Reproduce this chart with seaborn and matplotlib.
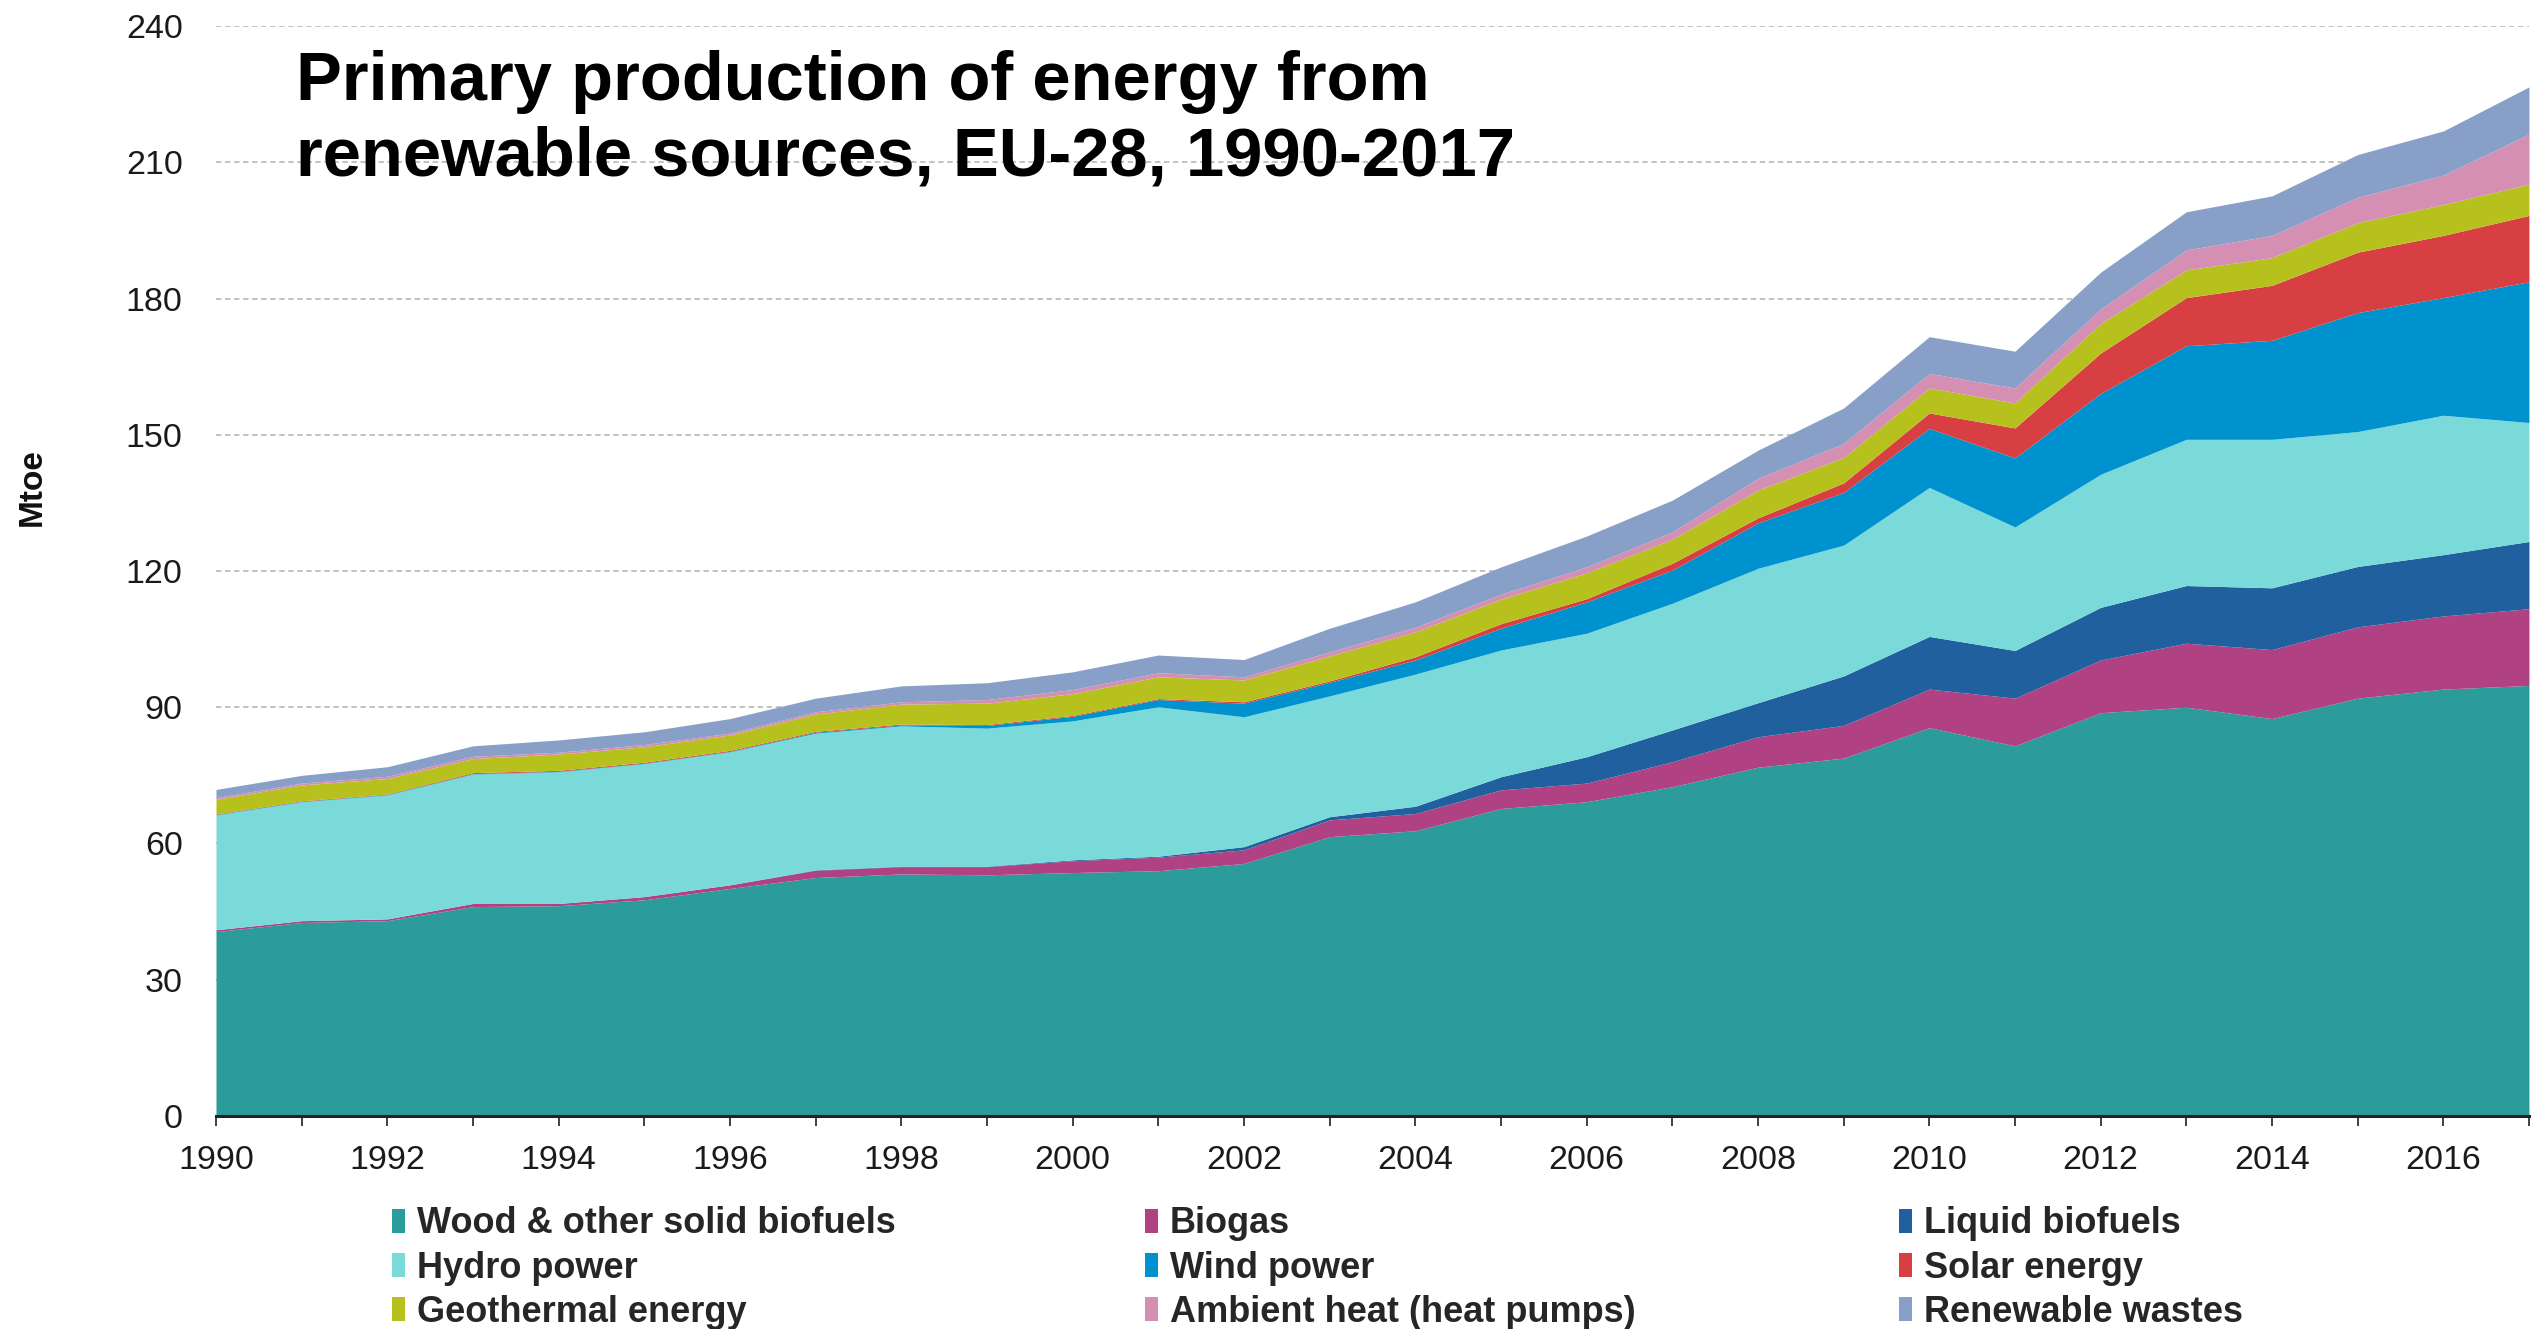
import numpy as np
import pandas as pd
import seaborn as sns
import matplotlib.pyplot as plt
from matplotlib.patches import Patch

# Mtoe, EU-28, leitura aproximada do grafico
years = list(range(1990, 2018))

wood = [40.6, 42.6, 43.0, 46.1, 46.3, 47.6, 50.1, 52.5, 53.3, 53.1,
        53.6, 54.0, 55.6, 61.5, 62.8, 67.7, 69.2, 72.5, 76.8, 78.8,
        85.5, 81.5, 88.8, 90.0, 87.5, 92.0, 94.0, 94.8]
biogas = [0.4, 0.4, 0.4, 0.7, 0.5, 0.7, 0.8, 1.6, 1.6, 1.8,
          2.6, 3.0, 3.0, 3.7, 3.8, 4.1, 4.1, 5.5, 6.7, 7.2,
          8.5, 10.5, 11.6, 14.1, 15.2, 15.7, 16.1, 16.9]
liquid = [0.0, 0.0, 0.0, 0.0, 0.0, 0.0, 0.0, 0.1, 0.1, 0.1,
          0.2, 0.2, 0.7, 0.7, 1.6, 2.9, 5.8, 7.0, 7.5, 10.9,
          11.6, 10.5, 11.6, 12.7, 13.6, 13.3, 13.5, 14.8]
hydro = [25.3, 26.2, 27.3, 28.5, 29.0, 29.3, 29.3, 30.1, 30.9, 30.4,
         30.6, 32.9, 28.6, 26.6, 29.1, 27.9, 27.2, 27.9, 29.6, 28.8,
         32.8, 27.2, 29.3, 32.2, 32.7, 29.7, 30.7, 26.2]
wind = [0.1, 0.1, 0.1, 0.1, 0.1, 0.1, 0.1, 0.2, 0.2, 0.6,
        1.0, 1.6, 3.0, 3.0, 3.1, 4.8, 6.9, 7.3, 10.0, 11.6,
        13.0, 15.2, 17.8, 20.6, 21.8, 26.2, 25.9, 31.0]
solar = [0.1, 0.1, 0.1, 0.2, 0.2, 0.2, 0.2, 0.2, 0.2, 0.2,
         0.2, 0.2, 0.3, 0.3, 0.7, 1.0, 0.7, 1.5, 1.1, 2.1,
         3.4, 6.6, 8.9, 10.6, 12.1, 13.3, 13.7, 14.6]
geothermal = [3.2, 3.5, 3.4, 3.1, 3.6, 3.4, 3.4, 3.8, 4.4, 4.7,
              4.8, 4.8, 4.8, 5.5, 5.5, 5.4, 5.7, 5.3, 6.1, 5.6,
              5.5, 5.5, 6.5, 6.1, 6.1, 6.5, 6.8, 6.9]
ambient = [0.4, 0.4, 0.5, 0.5, 0.4, 0.5, 0.4, 0.5, 0.5, 0.8,
           0.9, 0.9, 0.7, 0.9, 1.0, 1.1, 1.3, 1.6, 2.6, 3.1,
           3.2, 3.3, 3.2, 4.4, 4.9, 5.6, 6.5, 11.0]
wastes = [1.8, 1.7, 2.1, 2.3, 2.7, 2.8, 3.2, 3.0, 3.5, 3.7,
          3.9, 3.9, 3.8, 5.2, 5.6, 6.0, 6.8, 7.0, 6.2, 7.8,
          8.1, 8.1, 8.1, 8.4, 8.7, 9.4, 9.7, 10.4]

labels = ["Wood & other solid biofuels", "Biogas", "Liquid biofuels",
          "Hydro power", "Wind power", "Solar energy",
          "Geothermal energy", "Ambient heat (heat pumps)", "Renewable wastes"]

df = pd.DataFrame(
    np.column_stack([wood, biogas, liquid, hydro, wind, solar,
                     geothermal, ambient, wastes]),
    index=years, columns=labels)

cores = ["#2B9B9B", "#B04284", "#21609E", "#7AD9D9", "#0092CE",
         "#D73F43", "#B7C11E", "#D48FB3", "#88A0C8"]
paleta = sns.color_palette(cores)

sns.set_theme(style="white")
plt.rcParams['font.family'] = ['Liberation Sans', 'DejaVu Sans']

fig = plt.figure(figsize=(25.32, 13.29), dpi=100)
ax = fig.add_axes([0.0853, 0.1603, 0.9135, 0.8201])

ax.stackplot(df.index, df.T.values, colors=paleta, linewidth=0, zorder=2)

ax.set_xlim(1990, 2017)
ax.set_ylim(0, 240)
ax.set_yticks(range(0, 241, 30))
ax.set_xticks(range(1990, 2017, 2))
ax.set_xticks(years, minor=True)

ax.set_axisbelow(True)
ax.yaxis.grid(True, color="#BDBDBD", linestyle=(0, (3, 2)), linewidth=1.3)
ax.xaxis.grid(False)

for s in ["left", "right", "top"]:
    ax.spines[s].set_visible(False)
ax.spines["bottom"].set_color("#222222")
ax.spines["bottom"].set_linewidth(2.2)
ax.spines["bottom"].set_zorder(5)

ax.tick_params(axis="y", length=0, pad=24, labelsize=24.5, labelcolor="#1a1a1a")
ax.tick_params(axis="x", which="both", bottom=True, length=7, width=1.3,
               color="#333333", direction="out")
ax.tick_params(axis="x", which="major", pad=14, labelsize=24.5, labelcolor="#1a1a1a")

ax.set_ylabel("Mtoe", fontsize=24, fontweight="bold", color="#111111")
ax.yaxis.set_label_coords(-0.0726, 0.577)

# titulo dentro do grafico, duas linhas
fig.text(0.1169, 1 - 100 / 1329, "Primary production of energy from",
         fontsize=49.5, fontweight="bold", ha="left", va="baseline", color="black")
fig.text(0.1169, 1 - 175 / 1329, "renewable sources, EU-28, 1990-2017",
         fontsize=49.5, fontweight="bold", ha="left", va="baseline", color="black")

# legenda em 3 colunas
handles = [Patch(facecolor=c, edgecolor="none") for c in paleta]
colunas = [[0, 3, 6], [1, 4, 7], [2, 5, 8]]
xs = [392 / 2532, 1145 / 2532, 1899 / 2532]
for col, x in zip(colunas, xs):
    fig.legend([handles[i] for i in col], [labels[i] for i in col],
               loc="center left", bbox_to_anchor=(x, 1 - 1268 / 1329),
               ncol=1, frameon=False, borderpad=0, borderaxespad=0,
               handlelength=0.37, handleheight=0.63, handletextpad=0.32,
               labelspacing=0.25,
               prop={"size": 26, "weight": "bold"})

fig.savefig("out.png", dpi=100)
